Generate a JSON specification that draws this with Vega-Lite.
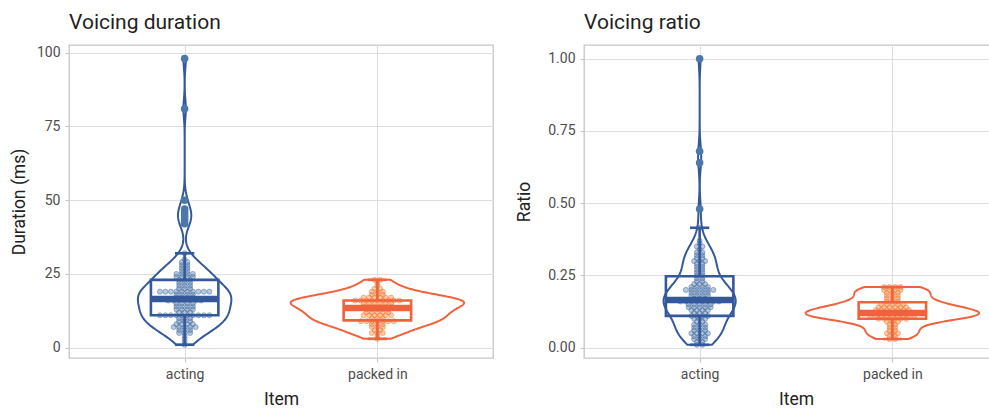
{
  "$schema": "https://vega.github.io/schema/vega-lite/v6.json",
  "background": "white",
  "padding": {"left": 9, "top": 11, "right": 0, "bottom": 0},
  "spacing": 21,
  "datasets": {
    "duration": [
      {"item": "acting", "v": 1}, {"item": "acting", "v": 2}, {"item": "acting", "v": 3}, {"item": "acting", "v": 4},
      {"item": "acting", "v": 5}, {"item": "acting", "v": 5}, {"item": "acting", "v": 5},
      {"item": "acting", "v": 6}, {"item": "acting", "v": 6}, {"item": "acting", "v": 6},
      {"item": "acting", "v": 7}, {"item": "acting", "v": 7}, {"item": "acting", "v": 7}, {"item": "acting", "v": 7}, {"item": "acting", "v": 7},
      {"item": "acting", "v": 8}, {"item": "acting", "v": 8}, {"item": "acting", "v": 8}, {"item": "acting", "v": 8},
      {"item": "acting", "v": 9}, {"item": "acting", "v": 9}, {"item": "acting", "v": 9},
      {"item": "acting", "v": 10}, {"item": "acting", "v": 10}, {"item": "acting", "v": 10},
      {"item": "acting", "v": 11}, {"item": "acting", "v": 11}, {"item": "acting", "v": 11}, {"item": "acting", "v": 11}, {"item": "acting", "v": 11},
      {"item": "acting", "v": 11}, {"item": "acting", "v": 11}, {"item": "acting", "v": 11}, {"item": "acting", "v": 11}, {"item": "acting", "v": 11},
      {"item": "acting", "v": 12}, {"item": "acting", "v": 12}, {"item": "acting", "v": 12},
      {"item": "acting", "v": 13}, {"item": "acting", "v": 13}, {"item": "acting", "v": 13}, {"item": "acting", "v": 13},
      {"item": "acting", "v": 14}, {"item": "acting", "v": 14}, {"item": "acting", "v": 14}, {"item": "acting", "v": 14},
      {"item": "acting", "v": 15}, {"item": "acting", "v": 15}, {"item": "acting", "v": 15}, {"item": "acting", "v": 15},
      {"item": "acting", "v": 16}, {"item": "acting", "v": 16}, {"item": "acting", "v": 16}, {"item": "acting", "v": 16},
      {"item": "acting", "v": 16}, {"item": "acting", "v": 16}, {"item": "acting", "v": 16},
      {"item": "acting", "v": 17}, {"item": "acting", "v": 17}, {"item": "acting", "v": 17}, {"item": "acting", "v": 17},
      {"item": "acting", "v": 18}, {"item": "acting", "v": 18}, {"item": "acting", "v": 18}, {"item": "acting", "v": 18},
      {"item": "acting", "v": 19}, {"item": "acting", "v": 19}, {"item": "acting", "v": 19}, {"item": "acting", "v": 19}, {"item": "acting", "v": 19},
      {"item": "acting", "v": 19}, {"item": "acting", "v": 19}, {"item": "acting", "v": 19}, {"item": "acting", "v": 19}, {"item": "acting", "v": 19},
      {"item": "acting", "v": 20}, {"item": "acting", "v": 20}, {"item": "acting", "v": 20},
      {"item": "acting", "v": 21}, {"item": "acting", "v": 21}, {"item": "acting", "v": 21},
      {"item": "acting", "v": 22}, {"item": "acting", "v": 22}, {"item": "acting", "v": 22},
      {"item": "acting", "v": 23}, {"item": "acting", "v": 23}, {"item": "acting", "v": 23},
      {"item": "acting", "v": 24}, {"item": "acting", "v": 24}, {"item": "acting", "v": 24}, {"item": "acting", "v": 24},
      {"item": "acting", "v": 25}, {"item": "acting", "v": 25}, {"item": "acting", "v": 25}, {"item": "acting", "v": 25},
      {"item": "acting", "v": 26}, {"item": "acting", "v": 26},
      {"item": "acting", "v": 27}, {"item": "acting", "v": 27},
      {"item": "acting", "v": 28}, {"item": "acting", "v": 28},
      {"item": "acting", "v": 29}, {"item": "acting", "v": 29},
      {"item": "acting", "v": 30}, {"item": "acting", "v": 32},
      {"item": "acting", "v": 42}, {"item": "acting", "v": 43}, {"item": "acting", "v": 44}, {"item": "acting", "v": 45},
      {"item": "acting", "v": 46}, {"item": "acting", "v": 47}, {"item": "acting", "v": 50}, {"item": "acting", "v": 81}, {"item": "acting", "v": 98},
      {"item": "packed in", "v": 3}, {"item": "packed in", "v": 4},
      {"item": "packed in", "v": 5}, {"item": "packed in", "v": 5}, {"item": "packed in", "v": 5},
      {"item": "packed in", "v": 6}, {"item": "packed in", "v": 6},
      {"item": "packed in", "v": 7}, {"item": "packed in", "v": 7}, {"item": "packed in", "v": 7},
      {"item": "packed in", "v": 8}, {"item": "packed in", "v": 8}, {"item": "packed in", "v": 8},
      {"item": "packed in", "v": 9}, {"item": "packed in", "v": 9}, {"item": "packed in", "v": 9}, {"item": "packed in", "v": 9},
      {"item": "packed in", "v": 9}, {"item": "packed in", "v": 9}, {"item": "packed in", "v": 9},
      {"item": "packed in", "v": 10}, {"item": "packed in", "v": 10}, {"item": "packed in", "v": 10},
      {"item": "packed in", "v": 11}, {"item": "packed in", "v": 11}, {"item": "packed in", "v": 11}, {"item": "packed in", "v": 11}, {"item": "packed in", "v": 11}, {"item": "packed in", "v": 11},
      {"item": "packed in", "v": 12}, {"item": "packed in", "v": 12}, {"item": "packed in", "v": 12}, {"item": "packed in", "v": 12}, {"item": "packed in", "v": 12},
      {"item": "packed in", "v": 13}, {"item": "packed in", "v": 13}, {"item": "packed in", "v": 13}, {"item": "packed in", "v": 13}, {"item": "packed in", "v": 13},
      {"item": "packed in", "v": 14}, {"item": "packed in", "v": 14}, {"item": "packed in", "v": 14}, {"item": "packed in", "v": 14}, {"item": "packed in", "v": 14}, {"item": "packed in", "v": 14},
      {"item": "packed in", "v": 15}, {"item": "packed in", "v": 15}, {"item": "packed in", "v": 15}, {"item": "packed in", "v": 15}, {"item": "packed in", "v": 15}, {"item": "packed in", "v": 15},
      {"item": "packed in", "v": 16}, {"item": "packed in", "v": 16}, {"item": "packed in", "v": 16}, {"item": "packed in", "v": 16}, {"item": "packed in", "v": 16},
      {"item": "packed in", "v": 16}, {"item": "packed in", "v": 16}, {"item": "packed in", "v": 16}, {"item": "packed in", "v": 16},
      {"item": "packed in", "v": 17}, {"item": "packed in", "v": 17}, {"item": "packed in", "v": 17}, {"item": "packed in", "v": 17}, {"item": "packed in", "v": 17}, {"item": "packed in", "v": 17},
      {"item": "packed in", "v": 18}, {"item": "packed in", "v": 18}, {"item": "packed in", "v": 18},
      {"item": "packed in", "v": 19}, {"item": "packed in", "v": 19}, {"item": "packed in", "v": 19},
      {"item": "packed in", "v": 20}, {"item": "packed in", "v": 20},
      {"item": "packed in", "v": 21}, {"item": "packed in", "v": 22},
      {"item": "packed in", "v": 23}, {"item": "packed in", "v": 23}
    ],
    "ratio": [
      {"item": "acting", "v": 0.01}, {"item": "acting", "v": 0.01},
      {"item": "acting", "v": 0.02}, {"item": "acting", "v": 0.02},
      {"item": "acting", "v": 0.03}, {"item": "acting", "v": 0.03}, {"item": "acting", "v": 0.03},
      {"item": "acting", "v": 0.04}, {"item": "acting", "v": 0.04}, {"item": "acting", "v": 0.04},
      {"item": "acting", "v": 0.05}, {"item": "acting", "v": 0.05}, {"item": "acting", "v": 0.05}, {"item": "acting", "v": 0.05},
      {"item": "acting", "v": 0.06}, {"item": "acting", "v": 0.06}, {"item": "acting", "v": 0.06},
      {"item": "acting", "v": 0.07}, {"item": "acting", "v": 0.07}, {"item": "acting", "v": 0.07},
      {"item": "acting", "v": 0.08}, {"item": "acting", "v": 0.08}, {"item": "acting", "v": 0.08},
      {"item": "acting", "v": 0.09}, {"item": "acting", "v": 0.09},
      {"item": "acting", "v": 0.10}, {"item": "acting", "v": 0.10}, {"item": "acting", "v": 0.10},
      {"item": "acting", "v": 0.11}, {"item": "acting", "v": 0.11}, {"item": "acting", "v": 0.11}, {"item": "acting", "v": 0.11},
      {"item": "acting", "v": 0.12}, {"item": "acting", "v": 0.12}, {"item": "acting", "v": 0.12},
      {"item": "acting", "v": 0.13}, {"item": "acting", "v": 0.13}, {"item": "acting", "v": 0.13}, {"item": "acting", "v": 0.13},
      {"item": "acting", "v": 0.14}, {"item": "acting", "v": 0.14}, {"item": "acting", "v": 0.14}, {"item": "acting", "v": 0.14}, {"item": "acting", "v": 0.14},
      {"item": "acting", "v": 0.15}, {"item": "acting", "v": 0.15}, {"item": "acting", "v": 0.15}, {"item": "acting", "v": 0.15}, {"item": "acting", "v": 0.15},
      {"item": "acting", "v": 0.16}, {"item": "acting", "v": 0.16}, {"item": "acting", "v": 0.16}, {"item": "acting", "v": 0.16},
      {"item": "acting", "v": 0.16}, {"item": "acting", "v": 0.16}, {"item": "acting", "v": 0.16}, {"item": "acting", "v": 0.16},
      {"item": "acting", "v": 0.17}, {"item": "acting", "v": 0.17}, {"item": "acting", "v": 0.17},
      {"item": "acting", "v": 0.18}, {"item": "acting", "v": 0.18}, {"item": "acting", "v": 0.18}, {"item": "acting", "v": 0.18},
      {"item": "acting", "v": 0.19}, {"item": "acting", "v": 0.19}, {"item": "acting", "v": 0.19}, {"item": "acting", "v": 0.19},
      {"item": "acting", "v": 0.20}, {"item": "acting", "v": 0.20}, {"item": "acting", "v": 0.20}, {"item": "acting", "v": 0.20}, {"item": "acting", "v": 0.20}, {"item": "acting", "v": 0.20},
      {"item": "acting", "v": 0.21}, {"item": "acting", "v": 0.21}, {"item": "acting", "v": 0.21}, {"item": "acting", "v": 0.21},
      {"item": "acting", "v": 0.22}, {"item": "acting", "v": 0.22}, {"item": "acting", "v": 0.22},
      {"item": "acting", "v": 0.23}, {"item": "acting", "v": 0.23},
      {"item": "acting", "v": 0.24}, {"item": "acting", "v": 0.24},
      {"item": "acting", "v": 0.25}, {"item": "acting", "v": 0.25},
      {"item": "acting", "v": 0.26}, {"item": "acting", "v": 0.26},
      {"item": "acting", "v": 0.27}, {"item": "acting", "v": 0.27},
      {"item": "acting", "v": 0.28}, {"item": "acting", "v": 0.28},
      {"item": "acting", "v": 0.29}, {"item": "acting", "v": 0.29},
      {"item": "acting", "v": 0.30}, {"item": "acting", "v": 0.30}, {"item": "acting", "v": 0.30},
      {"item": "acting", "v": 0.31}, {"item": "acting", "v": 0.31},
      {"item": "acting", "v": 0.32}, {"item": "acting", "v": 0.32},
      {"item": "acting", "v": 0.33}, {"item": "acting", "v": 0.33},
      {"item": "acting", "v": 0.34}, {"item": "acting", "v": 0.35}, {"item": "acting", "v": 0.35},
      {"item": "acting", "v": 0.36}, {"item": "acting", "v": 0.37}, {"item": "acting", "v": 0.415},
      {"item": "acting", "v": 0.48}, {"item": "acting", "v": 0.64}, {"item": "acting", "v": 0.68}, {"item": "acting", "v": 1.0},
      {"item": "packed in", "v": 0.03}, {"item": "packed in", "v": 0.03},
      {"item": "packed in", "v": 0.04}, {"item": "packed in", "v": 0.04},
      {"item": "packed in", "v": 0.05}, {"item": "packed in", "v": 0.05}, {"item": "packed in", "v": 0.05},
      {"item": "packed in", "v": 0.06}, {"item": "packed in", "v": 0.06},
      {"item": "packed in", "v": 0.07}, {"item": "packed in", "v": 0.07},
      {"item": "packed in", "v": 0.08}, {"item": "packed in", "v": 0.08},
      {"item": "packed in", "v": 0.09}, {"item": "packed in", "v": 0.09}, {"item": "packed in", "v": 0.09},
      {"item": "packed in", "v": 0.10}, {"item": "packed in", "v": 0.10}, {"item": "packed in", "v": 0.10}, {"item": "packed in", "v": 0.10}, {"item": "packed in", "v": 0.10}, {"item": "packed in", "v": 0.10},
      {"item": "packed in", "v": 0.11}, {"item": "packed in", "v": 0.11}, {"item": "packed in", "v": 0.11}, {"item": "packed in", "v": 0.11}, {"item": "packed in", "v": 0.11},
      {"item": "packed in", "v": 0.11}, {"item": "packed in", "v": 0.11}, {"item": "packed in", "v": 0.11}, {"item": "packed in", "v": 0.11},
      {"item": "packed in", "v": 0.12}, {"item": "packed in", "v": 0.12}, {"item": "packed in", "v": 0.12}, {"item": "packed in", "v": 0.12}, {"item": "packed in", "v": 0.12},
      {"item": "packed in", "v": 0.12}, {"item": "packed in", "v": 0.12}, {"item": "packed in", "v": 0.12}, {"item": "packed in", "v": 0.12},
      {"item": "packed in", "v": 0.13}, {"item": "packed in", "v": 0.13}, {"item": "packed in", "v": 0.13}, {"item": "packed in", "v": 0.13},
      {"item": "packed in", "v": 0.13}, {"item": "packed in", "v": 0.13}, {"item": "packed in", "v": 0.13},
      {"item": "packed in", "v": 0.14}, {"item": "packed in", "v": 0.14}, {"item": "packed in", "v": 0.14}, {"item": "packed in", "v": 0.14}, {"item": "packed in", "v": 0.14}, {"item": "packed in", "v": 0.14},
      {"item": "packed in", "v": 0.15}, {"item": "packed in", "v": 0.15}, {"item": "packed in", "v": 0.15}, {"item": "packed in", "v": 0.15}, {"item": "packed in", "v": 0.15},
      {"item": "packed in", "v": 0.16}, {"item": "packed in", "v": 0.16}, {"item": "packed in", "v": 0.16},
      {"item": "packed in", "v": 0.17}, {"item": "packed in", "v": 0.17}, {"item": "packed in", "v": 0.17},
      {"item": "packed in", "v": 0.18}, {"item": "packed in", "v": 0.18}, {"item": "packed in", "v": 0.18},
      {"item": "packed in", "v": 0.19}, {"item": "packed in", "v": 0.19}, {"item": "packed in", "v": 0.19},
      {"item": "packed in", "v": 0.20}, {"item": "packed in", "v": 0.20}, {"item": "packed in", "v": 0.20}, {"item": "packed in", "v": 0.20},
      {"item": "packed in", "v": 0.21}, {"item": "packed in", "v": 0.21}, {"item": "packed in", "v": 0.21}, {"item": "packed in", "v": 0.21}
    ]
  },
  "hconcat": [
    {
      "width": 424,
      "height": 313,
      "title": {"text": "Voicing duration"},
      "data": {"name": "duration"},
      "transform": [{"calculate": "datum.item === 'acting' ? 1 : 2", "as": "idx"}],
      "layer": [
        {
          "transform": [
            {"joinaggregate": [
              {"op": "stdev", "field": "v", "as": "sd"},
              {"op": "q1", "field": "v", "as": "lo"},
              {"op": "q3", "field": "v", "as": "hi"},
              {"op": "count", "as": "n"}], "groupby": ["item"]},
            {"calculate": "0.9 * min(datum.sd, (datum.hi - datum.lo) / 1.34) * pow(datum.n, -0.2)", "as": "bw"},
            {"calculate": "datum.v / datum.bw", "as": "z"},
            {"density": "z", "groupby": ["item", "idx", "bw"], "bandwidth": 1, "steps": 200, "resolve": "independent", "as": ["zv", "dz"]},
            {"calculate": "datum.zv * datum.bw", "as": "y"},
            {"calculate": "datum.dz / datum.bw", "as": "d"},
            {"joinaggregate": [{"op": "max", "field": "d", "as": "dmax"}]},
            {"calculate": "datum.idx - 0.45 * datum.d / datum.dmax", "as": "xl"},
            {"calculate": "datum.idx + 0.45 * datum.d / datum.dmax", "as": "xr"}
          ],
          "mark": {"type": "area", "orient": "horizontal", "fill": "white", "strokeWidth": 2, "strokeJoin": "round"},
          "encoding": {
            "y": {"field": "y", "type": "quantitative", "scale": {"domain": [-3.49, 102.61], "nice": false, "zero": false},
              "axis": {"title": "Duration (ms)", "values": [0, 12.5, 25, 37.5, 50, 62.5, 75, 87.5, 100],
                "labelExpr": "datum.value % 25 === 0 ? datum.label : ''",
                "gridColor": {"condition": {"test": "datum.value % 25 === 0", "value": "#dedede"}, "value": "#efefef"},
                "tickOpacity": {"condition": {"test": "datum.value % 25 === 0", "value": 1}, "value": 0}}},
            "x": {"field": "xl", "type": "quantitative", "scale": {"domain": [0.4, 2.6], "nice": false, "zero": false},
              "axis": {"title": "Item", "values": [1, 2], "labelExpr": "datum.value === 1 ? 'acting' : 'packed in'"}},
            "x2": {"field": "xr"},
            "detail": {"field": "item"},
            "stroke": {"field": "item", "type": "nominal", "scale": {"domain": ["acting", "packed in"], "range": ["#34599A", "#EE633D"]}, "legend": null}
          }
        },
        {
          "transform": [
            {"window": [{"op": "row_number", "as": "r"}], "groupby": ["item", "v"]},
            {"joinaggregate": [{"op": "count", "as": "c"}], "groupby": ["item", "v"]},
            {"calculate": "datum.idx + 0.0285 * (datum.r - (datum.c + 1) / 2)", "as": "px"}
          ],
          "mark": {"type": "circle", "size": 26, "fillOpacity": 0.4, "strokeOpacity": 0.5, "strokeWidth": 0.8},
          "encoding": {
            "x": {"field": "px", "type": "quantitative"},
            "y": {"field": "v", "type": "quantitative"},
            "fill": {"field": "item", "type": "nominal", "legend": null},
            "stroke": {"field": "item", "type": "nominal", "legend": null}
          }
        },
        {
          "transform": [
            {"aggregate": [
              {"op": "q1", "field": "v", "as": "lo"},
              {"op": "median", "field": "v", "as": "med"},
              {"op": "q3", "field": "v", "as": "hi"}], "groupby": ["item", "idx"]},
            {"calculate": "datum.idx - 0.175", "as": "bl"},
            {"calculate": "datum.idx + 0.175", "as": "br"}
          ],
          "encoding": {
            "x": {"field": "bl", "type": "quantitative"},
            "x2": {"field": "br"},
            "stroke": {"field": "item", "type": "nominal", "legend": null}
          },
          "layer": [
            {"mark": {"type": "rect", "fill": null, "fillOpacity": 0, "strokeWidth": 2.6},
             "encoding": {"y": {"field": "lo", "type": "quantitative"}, "y2": {"field": "hi"}}},
            {"mark": {"type": "rule", "strokeWidth": 6.5},
             "encoding": {"y": {"field": "med", "type": "quantitative"}}}
          ]
        },
        {
          "transform": [
            {"joinaggregate": [{"op": "q1", "field": "v", "as": "lo"}, {"op": "q3", "field": "v", "as": "hi"}], "groupby": ["item"]},
            {"filter": "datum.v >= datum.lo - 1.5 * (datum.hi - datum.lo) && datum.v <= datum.hi + 1.5 * (datum.hi - datum.lo)"},
            {"aggregate": [{"op": "min", "field": "v", "as": "wlo"}, {"op": "max", "field": "v", "as": "whi"}], "groupby": ["item", "idx", "lo", "hi"]},
            {"fold": ["wlo", "whi"], "as": ["end", "w"]},
            {"calculate": "datum.end === 'wlo' ? datum.lo : datum.hi", "as": "edge"},
            {"calculate": "datum.idx - 0.05", "as": "cl"},
            {"calculate": "datum.idx + 0.05", "as": "cr"}
          ],
          "encoding": {
            "y": {"field": "w", "type": "quantitative"},
            "stroke": {"field": "item", "type": "nominal", "legend": null}
          },
          "layer": [
            {"mark": {"type": "rule", "strokeWidth": 2.6},
             "encoding": {"x": {"field": "idx", "type": "quantitative"}, "y2": {"field": "edge"}}},
            {"mark": {"type": "rule", "strokeWidth": 2.6},
             "encoding": {"x": {"field": "cl", "type": "quantitative"}, "x2": {"field": "cr"}}}
          ]
        },
        {
          "transform": [
            {"joinaggregate": [{"op": "q1", "field": "v", "as": "lo"}, {"op": "q3", "field": "v", "as": "hi"}], "groupby": ["item"]},
            {"filter": "datum.v < datum.lo - 1.5 * (datum.hi - datum.lo) || datum.v > datum.hi + 1.5 * (datum.hi - datum.lo)"}
          ],
          "mark": {"type": "circle", "size": 58, "opacity": 1},
          "encoding": {
            "x": {"field": "idx", "type": "quantitative"},
            "y": {"field": "v", "type": "quantitative"},
            "fill": {"field": "item", "type": "nominal", "legend": null}
          }
        }
      ]
    },
    {
      "width": 424,
      "height": 313,
      "title": {"text": "Voicing ratio"},
      "data": {"name": "ratio"},
      "transform": [{"calculate": "datum.item === 'acting' ? 1 : 2", "as": "idx"}],
      "layer": [
        {
          "transform": [
            {"joinaggregate": [
              {"op": "stdev", "field": "v", "as": "sd"},
              {"op": "q1", "field": "v", "as": "lo"},
              {"op": "q3", "field": "v", "as": "hi"},
              {"op": "count", "as": "n"}], "groupby": ["item"]},
            {"calculate": "0.9 * min(datum.sd, (datum.hi - datum.lo) / 1.34) * pow(datum.n, -0.2)", "as": "bw"},
            {"calculate": "datum.v / datum.bw", "as": "z"},
            {"density": "z", "groupby": ["item", "idx", "bw"], "bandwidth": 1, "steps": 200, "resolve": "independent", "as": ["zv", "dz"]},
            {"calculate": "datum.zv * datum.bw", "as": "y"},
            {"calculate": "datum.dz / datum.bw", "as": "d"},
            {"joinaggregate": [{"op": "max", "field": "d", "as": "dmax"}]},
            {"calculate": "datum.idx - 0.45 * datum.d / datum.dmax", "as": "xl"},
            {"calculate": "datum.idx + 0.45 * datum.d / datum.dmax", "as": "xr"}
          ],
          "mark": {"type": "area", "orient": "horizontal", "fill": "white", "strokeWidth": 2, "strokeJoin": "round"},
          "encoding": {
            "y": {"field": "y", "type": "quantitative", "scale": {"domain": [-0.0356, 1.0474], "nice": false, "zero": false},
              "axis": {"title": "Ratio", "format": ".2f", "titlePadding": 14, "values": [0, 0.125, 0.25, 0.375, 0.5, 0.625, 0.75, 0.875, 1],
                "labelExpr": "(datum.value * 8) % 2 === 0 ? datum.label : ''",
                "gridColor": {"condition": {"test": "(datum.value * 8) % 2 === 0", "value": "#dedede"}, "value": "#efefef"},
                "tickOpacity": {"condition": {"test": "(datum.value * 8) % 2 === 0", "value": 1}, "value": 0}}},
            "x": {"field": "xl", "type": "quantitative", "scale": {"domain": [0.4, 2.6], "nice": false, "zero": false},
              "axis": {"title": "Item", "values": [1, 2], "labelExpr": "datum.value === 1 ? 'acting' : 'packed in'"}},
            "x2": {"field": "xr"},
            "detail": {"field": "item"},
            "stroke": {"field": "item", "type": "nominal", "scale": {"domain": ["acting", "packed in"], "range": ["#34599A", "#EE633D"]}, "legend": null}
          }
        },
        {
          "transform": [
            {"window": [{"op": "row_number", "as": "r"}], "groupby": ["item", "v"]},
            {"joinaggregate": [{"op": "count", "as": "c"}], "groupby": ["item", "v"]},
            {"calculate": "datum.idx + 0.0285 * (datum.r - (datum.c + 1) / 2)", "as": "px"}
          ],
          "mark": {"type": "circle", "size": 26, "fillOpacity": 0.4, "strokeOpacity": 0.5, "strokeWidth": 0.8},
          "encoding": {
            "x": {"field": "px", "type": "quantitative"},
            "y": {"field": "v", "type": "quantitative"},
            "fill": {"field": "item", "type": "nominal", "legend": null},
            "stroke": {"field": "item", "type": "nominal", "legend": null}
          }
        },
        {
          "transform": [
            {"aggregate": [
              {"op": "q1", "field": "v", "as": "lo"},
              {"op": "median", "field": "v", "as": "med"},
              {"op": "q3", "field": "v", "as": "hi"}], "groupby": ["item", "idx"]},
            {"calculate": "datum.idx - 0.175", "as": "bl"},
            {"calculate": "datum.idx + 0.175", "as": "br"}
          ],
          "encoding": {
            "x": {"field": "bl", "type": "quantitative"},
            "x2": {"field": "br"},
            "stroke": {"field": "item", "type": "nominal", "legend": null}
          },
          "layer": [
            {"mark": {"type": "rect", "fill": null, "fillOpacity": 0, "strokeWidth": 2.6},
             "encoding": {"y": {"field": "lo", "type": "quantitative"}, "y2": {"field": "hi"}}},
            {"mark": {"type": "rule", "strokeWidth": 6.5},
             "encoding": {"y": {"field": "med", "type": "quantitative"}}}
          ]
        },
        {
          "transform": [
            {"joinaggregate": [{"op": "q1", "field": "v", "as": "lo"}, {"op": "q3", "field": "v", "as": "hi"}], "groupby": ["item"]},
            {"filter": "datum.v >= datum.lo - 1.5 * (datum.hi - datum.lo) && datum.v <= datum.hi + 1.5 * (datum.hi - datum.lo)"},
            {"aggregate": [{"op": "min", "field": "v", "as": "wlo"}, {"op": "max", "field": "v", "as": "whi"}], "groupby": ["item", "idx", "lo", "hi"]},
            {"fold": ["wlo", "whi"], "as": ["end", "w"]},
            {"calculate": "datum.end === 'wlo' ? datum.lo : datum.hi", "as": "edge"},
            {"calculate": "datum.idx - 0.05", "as": "cl"},
            {"calculate": "datum.idx + 0.05", "as": "cr"}
          ],
          "encoding": {
            "y": {"field": "w", "type": "quantitative"},
            "stroke": {"field": "item", "type": "nominal", "legend": null}
          },
          "layer": [
            {"mark": {"type": "rule", "strokeWidth": 2.6},
             "encoding": {"x": {"field": "idx", "type": "quantitative"}, "y2": {"field": "edge"}}},
            {"mark": {"type": "rule", "strokeWidth": 2.6},
             "encoding": {"x": {"field": "cl", "type": "quantitative"}, "x2": {"field": "cr"}}}
          ]
        },
        {
          "transform": [
            {"joinaggregate": [{"op": "q1", "field": "v", "as": "lo"}, {"op": "q3", "field": "v", "as": "hi"}], "groupby": ["item"]},
            {"filter": "datum.v < datum.lo - 1.5 * (datum.hi - datum.lo) || datum.v > datum.hi + 1.5 * (datum.hi - datum.lo)"}
          ],
          "mark": {"type": "circle", "size": 58, "opacity": 1},
          "encoding": {
            "x": {"field": "idx", "type": "quantitative"},
            "y": {"field": "v", "type": "quantitative"},
            "fill": {"field": "item", "type": "nominal", "legend": null}
          }
        }
      ]
    }
  ],
  "config": {
    "font": "Roboto",
    "view": {"stroke": "#c6c6c6", "strokeWidth": 1.3},
    "axis": {
      "domain": false,
      "labelFontSize": 14,
      "labelColor": "#4d4d4d",
      "labelPadding": 5,
      "titleFontSize": 17.5,
      "titleFontWeight": "normal",
      "titleColor": "#222222",
      "tickColor": "#c6c6c6",
      "tickSize": 4,
      "tickWidth": 1.1,
      "gridColor": "#dedede",
      "gridWidth": 1.1
    },
    "axisX": {"titlePadding": 9},
    "axisY": {"titlePadding": 8},
    "title": {"fontSize": 21, "fontWeight": "normal", "color": "#1f1f1f", "anchor": "start", "frame": "group", "offset": 12}
  }
}
